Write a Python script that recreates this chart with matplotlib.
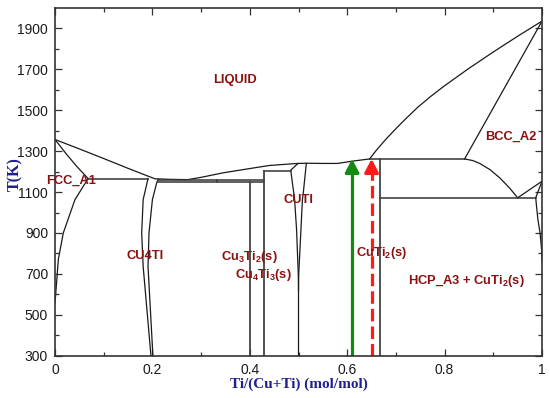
import matplotlib
matplotlib.use("Agg")
import matplotlib.pyplot as plt
from matplotlib.ticker import MultipleLocator, FixedLocator

plt.rcParams['font.family'] = ['Liberation Sans', 'DejaVu Sans']
plt.rcParams['mathtext.fontset'] = 'custom'
plt.rcParams['mathtext.rm'] = 'Liberation Sans:bold'
plt.rcParams['mathtext.bf'] = 'Liberation Sans:bold'
plt.rcParams['mathtext.default'] = 'rm'

# ---------------- data (x = Ti mole fraction, T in K) ----------------
liq_x = [0, 0.05, 0.10, 0.15, 0.205, 0.24, 0.273, 0.30, 0.345, 0.40, 0.44, 0.48, 0.499, 0.516, 0.55, 0.58, 0.61, 0.636, 0.646]
liq_T = [1357, 1311, 1264, 1216, 1165, 1162, 1161, 1172, 1194, 1215, 1230, 1237, 1240, 1241, 1240, 1240, 1251, 1259, 1262]

bccliq_x = [0.646, 0.66, 0.68, 0.70, 0.72, 0.745, 0.77, 0.80, 0.85, 0.90, 0.95, 1.0]
bccliq_T = [1262, 1305, 1360, 1410, 1458, 1515, 1565, 1620, 1705, 1785, 1862, 1936]

bccsol_x = [0.841, 1.0]
bccsol_T = [1262, 1936]

bccsolv_x = [0.841, 0.858, 0.872, 0.893, 0.913, 0.933, 0.950]
bccsolv_T = [1262, 1254, 1240, 1210, 1170, 1121, 1072]

betatr_x = [0.950, 1.0]
betatr_T = [1072, 1153]
alphatr_x = [0.987, 1.0]
alphatr_T = [1072, 1153]
alphasolv_x = [0.987, 0.9915, 0.996, 0.999, 1.0]
alphasolv_T = [1072, 966, 900, 820, 760]

fccsol_x = [0, 0.024, 0.0445, 0.068]
fccsol_T = [1357, 1284, 1226, 1166]
fccsolv_x = [0.068, 0.041, 0.017, 0.0068, 0.0014, 0]
fccsolv_T = [1166, 1063, 900, 770, 599, 560]

cu4ti_l_x = [0.191, 0.181, 0.178, 0.181, 0.197]
cu4ti_l_T = [1166, 1063, 900, 737, 300]
cu4ti_r_x = [0.212, 0.209, 0.200, 0.193, 0.191, 0.201]
cu4ti_r_T = [1161, 1147, 1063, 900, 737, 300]

cuti_l_x = [0.499, 0.484, 0.490, 0.492, 0.496, 0.4995, 0.5, 0.5]
cuti_l_T = [1240, 1207, 1100, 1063, 917, 700, 620, 300]
cuti_r_x = [0.516, 0.510, 0.508, 0.505, 0.5005, 0.5]
cuti_r_T = [1240, 1100, 1063, 917, 700, 620]

# horizontal invariant lines: (x_start, x_end, T)
horiz = [
    (0.068, 0.191, 1166),
    (0.212, 0.4286, 1161),
    (0.212, 0.4286, 1147),
    (0.4286, 0.484, 1202),
    (0.646, 0.841, 1262),
    (0.667, 0.987, 1072),
]
# vertical compound lines: (x, T_top, T_bottom)
vert = [
    (0.333, 1161, 1147),
    (0.4, 1147, 300),
    (0.4286, 1202, 300),
    (0.667, 1262, 300),
]

arrow_green_x, arrow_red_x = 0.61, 0.65
arrow_bottom_T, arrow_top_T = 300, 1262

labels = [
    ("LIQUID", 0.369, 1650),
    ("BCC_A2", 0.935, 1368),
    ("FCC_A1", 0.034, 1153),
    ("CUTI", 0.499, 1060),
    ("CU4TI", 0.185, 789),
    ("Cu$_3$Ti$_2$(s)", 0.40, 783),
    ("Cu$_4$Ti$_3$(s)", 0.428, 696),
    ("CuTi$_2$(s)", 0.670, 803),
    ("HCP_A3 + CuTi$_2$(s)", 0.8445, 667),
]

xticks = [0, 0.2, 0.4, 0.6, 0.8, 1]
xtick_labels = ["0", "0.2", "0.4", "0.6", "0.8", "1"]
yticks = [300, 500, 700, 900, 1100, 1300, 1500, 1700, 1900]

# ---------------- figure ----------------
fig = plt.figure(figsize=(5.5, 3.98), dpi=100)
ax = fig.add_axes([0.1, 0.1063, 0.8855, 0.8736])

lc = '#1a1a1a'
lw = 0.9
for xs, ts in [(liq_x, liq_T), (bccliq_x, bccliq_T), (bccsol_x, bccsol_T),
               (bccsolv_x, bccsolv_T), (betatr_x, betatr_T), (alphatr_x, alphatr_T),
               (alphasolv_x, alphasolv_T), (fccsol_x, fccsol_T), (fccsolv_x, fccsolv_T),
               (cu4ti_l_x, cu4ti_l_T), (cu4ti_r_x, cu4ti_r_T),
               (cuti_l_x, cuti_l_T), (cuti_r_x, cuti_r_T)]:
    ax.plot(xs, ts, color=lc, lw=lw, solid_joinstyle='round')
for x0, x1, t in horiz:
    ax.plot([x0, x1], [t, t], color='#333333', lw=1.1)
for x, t0, t1 in vert:
    ax.plot([x, x], [t0, t1], color='#444444', lw=1.3)

# arrows
head_T = 54
ax.plot([arrow_green_x, arrow_green_x], [arrow_bottom_T, arrow_top_T - head_T],
        color='#138a13', lw=2.3, solid_capstyle='butt')
ax.annotate('', xy=(arrow_green_x, arrow_top_T), xytext=(arrow_green_x, arrow_top_T - head_T),
            arrowprops=dict(arrowstyle='-|>,head_length=0.8,head_width=0.42', color='#138a13',
                            lw=2.3, mutation_scale=10, shrinkA=0, shrinkB=0))
ax.plot([arrow_red_x, arrow_red_x], [arrow_bottom_T, arrow_top_T - head_T],
        color='#ff1a1a', lw=2.3, dashes=(3.9, 1.6), solid_capstyle='butt')
ax.annotate('', xy=(arrow_red_x, arrow_top_T), xytext=(arrow_red_x, arrow_top_T - head_T),
            arrowprops=dict(arrowstyle='-|>,head_length=0.8,head_width=0.42', color='#ff1a1a',
                            lw=2.3, mutation_scale=10, shrinkA=0, shrinkB=0))

for txt, x, t in labels:
    ax.text(x, t, txt, color='#8b1010', fontsize=9.3, fontweight='bold',
            ha='center', va='center')

ax.set_xlim(0, 1)
ax.set_ylim(300, 2000)
ax.xaxis.set_major_locator(FixedLocator(xticks))
ax.set_xticklabels(xtick_labels)
ax.xaxis.set_minor_locator(MultipleLocator(0.1))
ax.yaxis.set_major_locator(FixedLocator(yticks))
ax.yaxis.set_minor_locator(FixedLocator(list(range(400, 2000, 200))))
ax.tick_params(which='both', direction='in', top=True, right=True, colors='#333333',
               labelcolor='#1a1a1a', labelsize=10)
ax.tick_params(which='major', length=5, width=0.9)
ax.tick_params(which='minor', length=3, width=0.9)
ax.tick_params(axis='x', pad=5)
ax.tick_params(axis='y', pad=5)
for s in ax.spines.values():
    s.set_color('#333333')
    s.set_linewidth(1.2)

fig.text(299 / 550, 1 - 384 / 398, 'Ti/(Cu+Ti) (mol/mol)', family='Liberation Serif',
         fontweight='bold', color='#1f1f8f', fontsize=11, ha='center', va='center')
fig.text(15 / 550, 1 - 174 / 398, 'T(K)', family='Liberation Serif', fontweight='bold',
         color='#1f1f8f', fontsize=11.5, ha='center', va='center', rotation=90)

fig.savefig('out.png', dpi=100)
